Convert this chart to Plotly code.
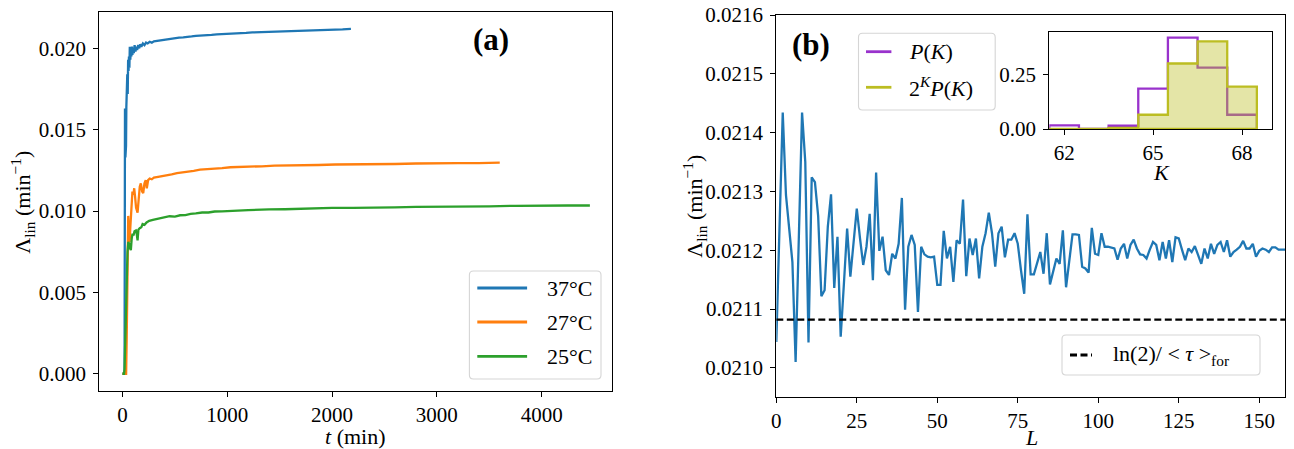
import plotly.graph_objects as go

W, H = 1294, 449
FONT = "Liberation Serif"

# ---------------- panel (a): lineage growth rate vs time ----------------
t_37 = [0, 10, 20, 24, 28, 31, 34, 37, 40, 43, 46, 50, 54, 58, 62, 66, 70, 75, 80, 85,
        90, 95, 100, 108, 116, 124, 132, 140, 150, 160, 170, 180, 195, 210, 225, 240,
        260, 280, 300, 330, 360, 400, 450, 500, 540, 580, 620, 660, 700, 750, 800, 850,
        900, 950, 1000, 1060, 1120, 1180, 1240, 1300, 1380, 1460, 1540, 1620, 1700,
        1780, 1860, 1940, 2020, 2100, 2180]
lam_37 = [0.0, 0.0, 0.0, 0.0163, 0.0133, 0.0162, 0.0140, 0.0164, 0.0184, 0.0168,
          0.0184, 0.0172, 0.0193, 0.0186, 0.0195, 0.0188, 0.0201, 0.0193, 0.0200,
          0.0195, 0.0201, 0.0196, 0.0200, 0.0197, 0.0202, 0.0198, 0.0201, 0.0199,
          0.0202, 0.0200, 0.02025, 0.0201, 0.0203, 0.0202, 0.02035, 0.0203, 0.0204,
          0.02035, 0.02043, 0.02046, 0.02050, 0.02053, 0.02058, 0.02061, 0.02066,
          0.02067, 0.02072, 0.02073, 0.02077, 0.02078, 0.02082, 0.02083, 0.02086,
          0.02087, 0.02090, 0.02091, 0.02094, 0.02095, 0.02098, 0.02099, 0.02102,
          0.02103, 0.02106, 0.02106, 0.02109, 0.02110, 0.02113, 0.02113, 0.02116,
          0.02116, 0.02119]

t_27 = [0, 20, 35, 40, 48, 55, 60, 68, 75, 85, 95, 105, 112, 120, 130, 144, 155, 165,
        175, 188, 198, 210, 222, 232, 245, 260, 280, 300, 340, 380, 420, 470, 520,
        570, 620, 680, 740, 800, 870, 950, 1030, 1120, 1220, 1330, 1450, 1580, 1720,
        1870, 2030, 2200, 2400, 2600, 2800, 3000, 3200, 3400, 3600]
lam_27 = [0.0, 0.0, 0.0, 0.0020, 0.0065, 0.0097, 0.0088, 0.0081, 0.0090, 0.0105,
          0.0112, 0.0110, 0.0114, 0.0109, 0.0102, 0.0099, 0.0109, 0.0115, 0.0117,
          0.0112, 0.0111, 0.0117, 0.0119, 0.0114, 0.0119, 0.0120, 0.01195, 0.01205,
          0.01210, 0.01214, 0.01221, 0.01225, 0.01233, 0.01236, 0.01243, 0.01247,
          0.01254, 0.01256, 0.01262, 0.01264, 0.01269, 0.01270, 0.01275, 0.01275,
          0.01279, 0.01279, 0.01283, 0.01283, 0.01286, 0.01286, 0.01289, 0.01289,
          0.01292, 0.01291, 0.01294, 0.01294, 0.01297]

t_25 = [0, 15, 20, 26, 32, 40, 48, 56, 64, 72, 80, 88, 96, 105, 115, 128, 136, 144,
        152, 165, 180, 192, 210, 230, 255, 290, 330, 370, 414, 450, 500, 550, 600,
        650, 700, 760, 820, 880, 950, 1020, 1100, 1200, 1300, 1400, 1550, 1700, 1850,
        2000, 2200, 2400, 2600, 2800, 3000, 3250, 3500, 3750, 4000, 4250, 4460]
lam_25 = [0.0, 0.0, 0.0003, 0.0020, 0.0040, 0.0062, 0.0075, 0.0081, 0.0080, 0.0077,
          0.0076, 0.0083, 0.0086, 0.0085, 0.00875, 0.0088, 0.0086, 0.0082, 0.00885,
          0.00895, 0.0090, 0.0092, 0.00915, 0.0093, 0.0094, 0.00945, 0.0095, 0.00957,
          0.00962, 0.00968, 0.00966, 0.00974, 0.00975, 0.00983, 0.00985, 0.00991,
          0.00991, 0.00997, 0.00998, 0.01002, 0.01002, 0.01006, 0.01006, 0.01010,
          0.01011, 0.01015, 0.01015, 0.01019, 0.01019, 0.01023, 0.01023, 0.01026,
          0.01026, 0.01029, 0.01029, 0.01032, 0.01031, 0.01034, 0.01034]

temp_labels = ["37°C", "27°C", "25°C"]
temp_colors = ["#1f77b4", "#ff7f0e", "#2ca02c"]

# ---------------- panel (b): Λ_lin versus lineage length L ----------------
L_vals = list(range(159))
lam_L = [
    0.021044, 0.021240, 0.021434, 0.021294, 0.021231, 0.021180, 0.021010, 0.021220,
    0.021434, 0.021350, 0.021043, 0.021324, 0.021316, 0.021258, 0.021122, 0.021132,
    0.021240, 0.021295, 0.021136, 0.021223, 0.021053, 0.021143, 0.021237, 0.021155,
    0.021210, 0.021271, 0.021220, 0.021175, 0.021206, 0.021262, 0.021149, 0.021332,
    0.021199, 0.021223, 0.021166, 0.021158, 0.021194, 0.021186, 0.021211, 0.021289,
    0.021099, 0.021206, 0.021226, 0.021209, 0.021095, 0.021206, 0.021193, 0.021189,
    0.021188, 0.021189, 0.021141, 0.021141, 0.021233, 0.021186, 0.021206, 0.021146,
    0.021217, 0.021211, 0.021286, 0.021156, 0.021220, 0.021192, 0.021220, 0.021152,
    0.021206, 0.021229, 0.021264, 0.021229, 0.021172, 0.021229, 0.021240, 0.021188,
    0.021218, 0.021218, 0.021229, 0.021211, 0.021166, 0.021126, 0.021261, 0.021159,
    0.021159, 0.021177, 0.021197, 0.021160, 0.021229, 0.021142, 0.021166, 0.021186,
    0.021177, 0.021234, 0.021137, 0.021183, 0.021227, 0.021227, 0.021226, 0.021172,
    0.021169, 0.021162, 0.021238, 0.021194, 0.021192, 0.021229, 0.021206, 0.021206,
    0.021205, 0.021203, 0.021184, 0.021203, 0.021211, 0.021186, 0.021209, 0.021218,
    0.021203, 0.021193, 0.021192, 0.021186, 0.021201, 0.021214, 0.021209, 0.021183,
    0.021214, 0.021186, 0.021217, 0.021180, 0.021222, 0.021220, 0.021201, 0.021183,
    0.021203, 0.021197, 0.021207, 0.021192, 0.021177, 0.021203, 0.021186, 0.021211,
    0.021194, 0.021209, 0.021214, 0.021197, 0.021217, 0.021189, 0.021197, 0.021201,
    0.021206, 0.021216, 0.021203, 0.021203, 0.021211, 0.021189, 0.021199, 0.021203,
    0.021201, 0.021197, 0.021205, 0.021205, 0.021201, 0.021201, 0.021201,
]
lam_forward = 0.021082  # ln(2)/<tau>_for

# ---------------- inset: distribution of generation number K ----------------
K_vals = [62, 63, 64, 65, 66, 67, 68]
P_K = [0.017, 0.0, 0.015, 0.187, 0.423, 0.284, 0.066]
P_K_weighted = [0.001, 0.0, 0.005, 0.066, 0.303, 0.405, 0.196]
K_ticks = [62, 65, 68]

PURPLE = "#9932cc"
OLIVE = "#bcbd22"


def px_x(p):
    return p / W


def px_y(p):
    return 1 - p / H


def step_outline(centers, heights, closed=False):
    """Histogram outline with unit-width bins centred on integer values."""
    xs, ys = [centers[0] - 0.5], [0.0]
    for c, h in zip(centers, heights):
        xs += [c - 0.5, c + 0.5]
        ys += [h, h]
    xs.append(centers[-1] + 0.5)
    ys.append(0.0)
    if closed:
        xs.append(centers[0] - 0.5)
        ys.append(0.0)
    return xs, ys


fig = go.Figure()

for t, lam, lab, col in zip([t_37, t_27, t_25], [lam_37, lam_27, lam_25], temp_labels, temp_colors):
    fig.add_trace(go.Scatter(x=t, y=lam, mode="lines", name=lab,
                             line=dict(color=col, width=2.3), xaxis="x", yaxis="y"))

fig.add_trace(go.Scatter(x=L_vals, y=lam_L, mode="lines", line=dict(color="#1f77b4", width=2.3),
                         xaxis="x2", yaxis="y2"))
fig.add_trace(go.Scatter(x=[L_vals[0], L_vals[-1]], y=[lam_forward, lam_forward], mode="lines",
                         line=dict(color="black", width=2.3, dash="7px,3.5px"),
                         xaxis="x2", yaxis="y2"))

px_, py_ = step_outline(K_vals, P_K)
fig.add_trace(go.Scatter(x=px_, y=py_, mode="lines", line=dict(color=PURPLE, width=2.3),
                         xaxis="x3", yaxis="y3"))
wx, wy = step_outline(K_vals, P_K_weighted, closed=True)
fig.add_trace(go.Scatter(x=wx, y=wy, mode="lines", fill="toself",
                         fillcolor="rgba(188,189,34,0.4)", line=dict(color=OLIVE, width=2.3),
                         xaxis="x3", yaxis="y3"))

tickfont = dict(family=FONT, size=21, color="black")
axis_common = dict(showline=True, mirror=True, linecolor="black", linewidth=1.1,
                   ticks="outside", ticklen=5, tickwidth=1.1, tickcolor="black",
                   showgrid=False, zeroline=False, tickfont=tickfont)
x_axis = dict(axis_common, ticklabelstandoff=0)
y_axis = dict(axis_common, ticklabelstandoff=3)

fig.update_layout(
    width=W, height=H, autosize=False,
    margin=dict(l=0, r=0, t=0, b=0, pad=0, autoexpand=False),
    paper_bgcolor="white", plot_bgcolor="white",
    showlegend=False,
    font=dict(family=FONT, color="black"),
    xaxis=dict(domain=[px_x(99.2), px_x(612.1)], range=[-222, 4672],
               tickvals=[0, 1000, 2000, 3000, 4000], anchor="y", **x_axis),
    yaxis=dict(domain=[px_y(391), px_y(11.7)], range=[-0.00106, 0.02225],
               tickvals=[0, 0.005, 0.01, 0.015, 0.02], tickformat=".3f", anchor="x",
               **y_axis),
    xaxis2=dict(domain=[px_x(776.3), px_x(1285)], range=[0, 158],
                tickvals=[0, 25, 50, 75, 100, 125, 150], anchor="y2", **x_axis),
    yaxis2=dict(domain=[px_y(396.7), px_y(15)], range=[0.020951, 0.0216],
                tickvals=[0.0210, 0.0211, 0.0212, 0.0213, 0.0214, 0.0215, 0.0216],
                tickformat=".4f", anchor="x2", **y_axis),
    xaxis3=dict(domain=[px_x(1049.3), px_x(1271.7)], range=[61.5, 69.0],
                tickvals=K_ticks, anchor="y3", **x_axis),
    yaxis3=dict(domain=[px_y(129), px_y(31.7)], range=[0, 0.45],
                tickvals=[0, 0.25], tickformat=".2f", anchor="x3", **y_axis),
)

title_font = dict(family=FONT, size=22, color="black")
annotations = [
    dict(text="Λ<sub>lin</sub> (min<sup>−1</sup>)", x=px_x(21.7), y=px_y(202), textangle=-90),
    dict(text="<i>t</i> (min)", x=px_x(355.7), y=px_y(436)),
    dict(text="Λ<sub>lin</sub> (min<sup>−1</sup>)", x=px_x(693.7), y=px_y(206), textangle=-90),
    dict(text="<i>L</i>", x=px_x(1031), y=px_y(437)),
    dict(text="<i>K</i>", x=px_x(1161), y=px_y(172)),
]
for a in annotations:
    a.update(xref="paper", yref="paper", xanchor="center", yanchor="middle",
             showarrow=False, font=title_font, borderpad=0)

panel_font = dict(family=FONT, size=31, color="black")
annotations += [
    dict(text="<b>(a)</b>", x=px_x(490.7), y=px_y(40), xref="paper", yref="paper",
         xanchor="center", yanchor="middle", showarrow=False, font=panel_font),
    dict(text="<b>(b)</b>", x=px_x(810.6), y=px_y(44), xref="paper", yref="paper",
         xanchor="center", yanchor="middle", showarrow=False, font=panel_font),
]


def rounded_box(x0, y0, x1, y1, r=4):
    pts = [
        f"M{px_x(x0 + r)},{px_y(y0)}",
        f"L{px_x(x1 - r)},{px_y(y0)}",
        f"Q{px_x(x1)},{px_y(y0)} {px_x(x1)},{px_y(y0 + r)}",
        f"L{px_x(x1)},{px_y(y1 - r)}",
        f"Q{px_x(x1)},{px_y(y1)} {px_x(x1 - r)},{px_y(y1)}",
        f"L{px_x(x0 + r)},{px_y(y1)}",
        f"Q{px_x(x0)},{px_y(y1)} {px_x(x0)},{px_y(y1 - r)}",
        f"L{px_x(x0)},{px_y(y0 + r)}",
        f"Q{px_x(x0)},{px_y(y0)} {px_x(x0 + r)},{px_y(y0)}",
        "Z",
    ]
    return dict(type="path", path=" ".join(pts), xref="paper", yref="paper",
                line=dict(color="#d5d5d5", width=1.1), fillcolor="rgba(255,255,255,0.8)",
                layer="above")


def legend_line(x0, x1, y, color, dash="solid"):
    return dict(type="line", xref="paper", yref="paper", x0=px_x(x0), x1=px_x(x1),
                y0=px_y(y), y1=px_y(y), line=dict(color=color, width=2.8, dash=dash),
                layer="above")


legend_font = dict(family=FONT, size=22, color="black")
shapes = []

# legend for panel (a)
shapes.append(rounded_box(469.4, 271, 601, 379))
for yy, lab, col in zip([288, 322, 356.3], temp_labels, temp_colors):
    shapes.append(legend_line(477.3, 527.1, yy, col))
    annotations.append(dict(text=lab, x=px_x(545), y=px_y(yy), xref="paper", yref="paper",
                            xanchor="left", yanchor="middle", showarrow=False, font=legend_font))

# legend for the inset histograms
shapes.append(rounded_box(858.5, 33.3, 995.2, 110))
for yy, lab, col in zip([51.7, 87.3],
                        ["<i>P</i>(<i>K</i>)", "2<sup><i>K</i></sup><i>P</i>(<i>K</i>)"],
                        [PURPLE, OLIVE]):
    shapes.append(legend_line(866, 891.4, yy, col))
    annotations.append(dict(text=lab, x=px_x(907), y=px_y(yy), xref="paper", yref="paper",
                            xanchor="left", yanchor="middle", showarrow=False, font=legend_font))

# legend for the reference rate
shapes.append(rounded_box(1062, 335, 1260, 375))
shapes.append(legend_line(1070, 1092, 355, "black", dash="7px,3.5px"))
annotations.append(dict(text="ln(2)/ &lt; <i>τ</i> &gt;<sub>for</sub>", x=px_x(1111),
                        y=px_y(355), xref="paper", yref="paper", xanchor="left",
                        yanchor="middle", showarrow=False, font=legend_font))

fig.update_layout(annotations=annotations, shapes=shapes)
fig.write_html("out.html")
